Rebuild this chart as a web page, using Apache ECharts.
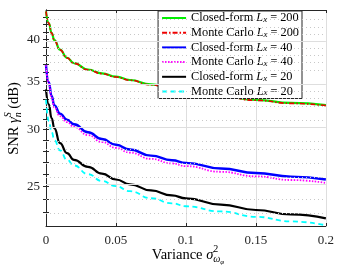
<!DOCTYPE html>
<html>
<head>
<meta charset="utf-8">
<script src="https://cdn.jsdelivr.net/npm/echarts@6/dist/echarts.min.js"></script>
<style>
  html, body { margin: 0; padding: 0; background: #fff; }
  #chart { width: 337px; height: 269px; }
</style>
</head>
<body>
<div id="chart"></div>
<script>
// variance sigma^2 (x) and SNR in dB for each curve
const variance = [0, 0.002, 0.004, 0.006, 0.01, 0.015, 0.02, 0.03, 0.04, 0.05, 0.06, 0.075, 0.09, 0.1, 0.125, 0.15, 0.175, 0.2];
const closedForm200 = [43.8, 42.2, 40.9, 39.95, 38.75, 37.75, 37.1, 36.35, 35.9, 35.52, 35.15, 34.65, 34.22, 33.96, 33.4, 32.97, 32.65, 32.42];
const monteCarlo200 = [43.8, 42.15, 40.85, 39.9, 38.72, 37.73, 37.08, 36.32, 35.87, 35.49, 35.12, 34.61, 34.18, 33.92, 33.36, 32.93, 32.61, 32.37];
const closedForm40 = [36.9, 34.9, 33.4, 32.4, 31.55, 30.95, 30.5, 29.72, 29.08, 28.55, 28.12, 27.57, 27.17, 26.94, 26.46, 26.08, 25.78, 25.54];
const monteCarlo40 = [36.85, 34.75, 33.22, 32.18, 31.3, 30.7, 30.24, 29.45, 28.8, 28.27, 27.84, 27.29, 26.89, 26.66, 26.18, 25.8, 25.5, 25.26];
const closedForm20 = [34.1, 32.5, 31.1, 30.1, 28.7, 27.8, 27.2, 26.6, 26.02, 25.54, 25.15, 24.66, 24.27, 24.04, 23.56, 23.16, 22.83, 22.54];
const monteCarlo20 = [33.0, 30.8, 29.75, 29.0, 28.05, 27.2, 26.72, 25.98, 25.42, 25.0, 24.6, 24.05, 23.66, 23.44, 23.05, 22.66, 22.33, 22.05];

const yMajor = [25, 30, 35, 40];
const yMinor = [23, 24, 26, 27, 28, 29, 31, 32, 33, 34, 36, 37, 38, 39, 41, 42, 43];
const yRange = [22, 44];

const serif = '"Liberation Serif", serif';
const ink = '#262626';
const lg = Math.log10;

const chart = echarts.init(document.getElementById('chart'), null, { renderer: 'canvas' });

function toPoints(arr) {
  return variance.map((x, i) => [x, lg(arr[i])]);
}

// curve definitions: name, data, color, width, dash
const curves = [
  ['Closed-form L_x = 200', closedForm200, '#00ee00', 2.2, 'solid'],
  ['Monte Carlo L_x = 200', monteCarlo200, '#ee0000', 1.6, [5, 2, 1.5, 2]],
  ['Closed-form L_x = 40', closedForm40, '#0000ff', 2.4, 'solid'],
  ['Monte Carlo L_x = 40', monteCarlo40, '#ff00ff', 1.8, [1.5, 1.5]],
  ['Closed-form L_x = 20', closedForm20, '#000000', 2.2, 'solid'],
  ['Monte Carlo L_x = 20', monteCarlo20, '#00ffff', 1.8, [5, 3.5]],
];

const series = curves.map(([name, arr, color, width, dash]) => ({
  name: name,
  type: 'line',
  data: toPoints(arr),
  symbol: 'none',
  smooth: 0.5,
  smoothMonotone: 'x',
  z: 3,
  color: color,
  lineStyle: { color: color, width: width, type: dash },
  emphasis: { disabled: true },
}));

// horizontal grid lines (log spaced), drawn as markLines
series.unshift({
  name: 'grid',
  type: 'line',
  data: [],
  z: 1,
  silent: true,
  markLine: {
    silent: true,
    symbol: 'none',
    label: { show: false },
    animation: false,
    data: yMajor.map(v => ({ yAxis: lg(v), lineStyle: { color: '#dedede', width: 1, type: 'solid' } }))
      .concat(yMinor.map(v => ({ yAxis: lg(v), lineStyle: { color: '#c8c8c8', width: 1, type: [1, 3] } }))),
  },
});

// text measuring for the axis titles
const ctx = document.createElement('canvas').getContext('2d');
function measure(t, size, italic) {
  ctx.font = (italic ? 'italic ' : '') + size + 'px ' + serif;
  return ctx.measureText(t).width;
}

// lay out pieces of text; stacked pieces share the start of the previous piece
function layout(pieces) {
  let x = 0, lastStart = 0, lastW = 0;
  const out = [];
  pieces.forEach(p => {
    const w = measure(p.t, p.size, p.italic);
    let start;
    if (p.stack) {
      start = lastStart;
      lastW = Math.max(lastW, w);
      x = lastStart + lastW;
    } else {
      start = x;
      lastStart = start;
      lastW = w;
      x = start + w;
    }
    out.push({ p, start });
  });
  const total = x;
  return out.map(({ p, start }) => ({
    type: 'text',
    x: start - total / 2,
    y: p.dy || 0,
    style: {
      text: p.t,
      font: (p.italic ? 'italic ' : '') + p.size + 'px ' + serif,
      fill: '#000',
      verticalAlign: 'middle',
      align: 'left',
    },
  }));
}

const xTitle = layout([
  { t: 'Variance ', size: 14.5 },
  { t: 'σ', size: 14.5, italic: true },
  { t: '2', size: 10, dy: -6 },
  { t: 'ω', size: 10, italic: true, dy: 4, stack: true },
  { t: 'φ', size: 7, italic: true, dy: 7 },
]);

const yTitle = layout([
  { t: 'SNR ', size: 14.5 },
  { t: 'γ', size: 14.5, italic: true },
  { t: 'S', size: 10, italic: true, dy: -6 },
  { t: 'n', size: 10, italic: true, dy: 4, stack: true },
  { t: ' (dB)', size: 14.5 },
]);

const option = {
  animation: false,
  backgroundColor: '#fff',
  grid: { left: 46, right: 7, top: 10, bottom: 43, containLabel: false },
  xAxis: [
    {
      type: 'value', min: 0, max: 0.2, interval: 0.05, position: 'bottom',
      axisLine: { show: true, lineStyle: { color: ink, width: 1 } },
      axisTick: { show: true, inside: true, length: 3, lineStyle: { color: ink } },
      axisLabel: { color: ink, fontFamily: serif, fontSize: 13, margin: 8 },
      splitLine: { show: true, lineStyle: { color: '#dedede', width: 1 } },
    },
    {
      type: 'value', min: 0, max: 0.2, interval: 0.05, position: 'top',
      axisLine: { show: true, lineStyle: { color: ink, width: 1 } },
      axisTick: { show: true, inside: true, length: 3, lineStyle: { color: ink } },
      axisLabel: { show: false },
      splitLine: { show: false },
    },
  ],
  yAxis: [
    {
      type: 'value', min: lg(yRange[0]), max: lg(yRange[1]), position: 'left',
      axisLine: { show: true, lineStyle: { color: ink, width: 1 } },
      axisTick: { show: true, inside: true, length: 3, customValues: yMajor.concat(yMinor).map(lg), lineStyle: { color: ink } },
      axisLabel: {
        color: ink, fontFamily: serif, fontSize: 13, margin: 6,
        customValues: yMajor.map(lg),
        formatter: v => String(Math.round(Math.pow(10, v))),
      },
      splitLine: { show: false },
    },
    {
      type: 'value', min: lg(yRange[0]), max: lg(yRange[1]), position: 'right',
      axisLine: { show: true, lineStyle: { color: ink, width: 1 } },
      axisTick: { show: true, inside: true, length: 3, customValues: yMajor.concat(yMinor).map(lg), lineStyle: { color: ink } },
      axisLabel: { show: false },
      splitLine: { show: false },
    },
  ],
  legend: {
    data: curves.map(c => c[0]),
    orient: 'vertical',
    right: 35,
    top: 11,
    padding: [1, 3, 1, 3],
    itemWidth: 24,
    itemHeight: 12,
    itemGap: 2.7,
    backgroundColor: '#fff',
    borderColor: ink,
    borderWidth: 1,
    borderRadius: 0,
    selectedMode: false,
    itemStyle: { opacity: 0 },
    textStyle: {
      fontFamily: serif, fontSize: 12.3, color: '#000', lineHeight: 12,
      rich: {
        n: { fontFamily: serif, fontSize: 12.3, color: '#000', lineHeight: 12 },
        i: { fontFamily: serif, fontSize: 12.3, fontStyle: 'italic', color: '#000', lineHeight: 12 },
        s: { fontFamily: serif, fontSize: 9, fontStyle: 'italic', color: '#000', lineHeight: 5, verticalAlign: 'bottom' },
      },
    },
    formatter: name => {
      const parts = name.split(' L_x = ');
      return '{n|' + parts[0] + ' }{i|L}{s|x}{n| = ' + parts[1] + '}';
    },
  },
  graphic: [
    { type: 'group', x: 188, y: 255, children: xTitle, silent: true },
    { type: 'group', x: 14, y: 118.5, rotation: Math.PI / 2, children: yTitle, silent: true },
  ],
  series: series,
};

chart.setOption(option);
</script>
</body>
</html>
